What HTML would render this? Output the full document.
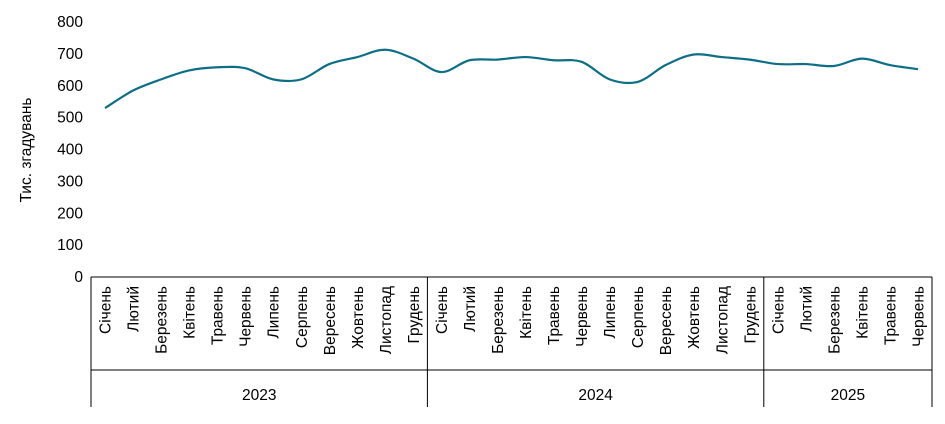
<!DOCTYPE html>
<html><head><meta charset="utf-8"><style>
body{margin:0;background:#fff;width:945px;height:419px;overflow:hidden}
svg text{font-family:"Liberation Sans",sans-serif;font-size:15.5px;fill:#000}
</style></head><body>
<svg id="c" width="945" height="419"></svg>
<script>
const months=["Січень","Лютий","Березень","Квітень","Травень","Червень","Липень","Серпень","Вересень","Жовтень","Листопад","Грудень","Січень","Лютий","Березень","Квітень","Травень","Червень","Липень","Серпень","Вересень","Жовтень","Листопад","Грудень","Січень","Лютий","Березень","Квітень","Травень","Червень"];
const values=[530,585,620,648,658,655,620,620,668,690,713,685,643,680,682,690,680,675,620,612,665,698,690,682,668,668,662,685,665,652];
const years=["2023","2024","2025"];
const yearCounts=[12,12,6];
const yTicks=[0,100,200,300,400,500,600,700,800];
const NS="http://www.w3.org/2000/svg";
const svg=document.getElementById('c');
const x0=91,x1=932,y0=277,y1=22;
const bw=(x1-x0)/months.length;
const X=i=>x0+bw*(i+0.5);
const Y=v=>y0-(v/800)*(y0-y1);
function mk(t,a,txt){const e=document.createElementNS(NS,t);for(const k in a)e.setAttribute(k,a[k]);if(txt!=null)e.textContent=txt;svg.appendChild(e);return e;}
yTicks.forEach(t=>{
const e=mk('text',{x:83,y:Y(t)+5,'text-anchor':'end'},t);


});
const yt=mk('text',{transform:'translate(31,150) rotate(-90)','text-anchor':'middle'},'Тис. згадувань');


const ax=mk('path',{d:`M${x0} ${y0}H${x1}M${x0} ${y0}V407M${x0} 370H${x1}M${x1} ${y0}V407`,stroke:'#000','stroke-width':1,fill:'none'});


months.forEach((m,i)=>{
const e=mk('text',{transform:`translate(${X(i)+5.5},286) rotate(-90)`,'text-anchor':'end'},m);


});
let s=0;
years.forEach((yr,k)=>{
const a=x0+s*bw,b=x0+(s+yearCounts[k])*bw;
if(k>0){const l=mk('line',{x1:a,x2:a,y1:y0,y2:407,stroke:'#000'});

}
const t=mk('text',{x:(a+b)/2,y:400,'text-anchor':'middle'},yr);


s+=yearCounts[k];
});
const P=values.map((v,i)=>[X(i),Y(v)]);
let d=`M${P[0][0]} ${P[0][1]}`;
for(let i=0;i<P.length-1;i++){
const p0=P[Math.max(0,i-1)],p1=P[i],p2=P[i+1],p3=P[Math.min(P.length-1,i+2)];
const c1=[p1[0]+(p2[0]-p0[0])/6,p1[1]+(p2[1]-p0[1])/6];
const c2=[p2[0]-(p3[0]-p1[0])/6,p2[1]-(p3[1]-p1[1])/6];
d+=`C${c1[0]} ${c1[1]} ${c2[0]} ${c2[1]} ${p2[0]} ${p2[1]}`;
}
const ln=mk('path',{d,stroke:'#0d6e86','stroke-width':2.2,fill:'none'});


</script>
</body></html>
